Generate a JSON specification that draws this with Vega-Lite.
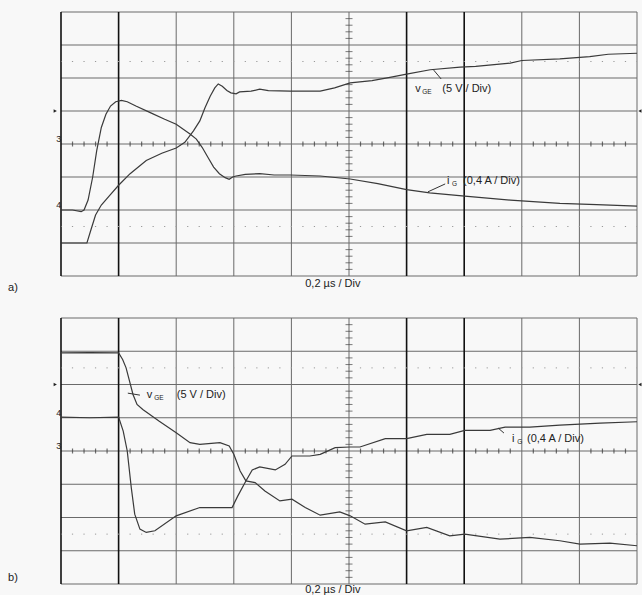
{
  "$schema": "https://vega.github.io/schema/vega-lite/v6.json",
  "autosize": {"type": "pad"},
  "padding": {"left": 8, "top": 11, "right": 0, "bottom": 0},
  "background": "#f8f8f8",
  "spacing": 42,
  "bounds": "flush",
  "config": {"view": {"stroke": null}, "text": {"font": "Liberation Sans", "fontSize": 11, "color": "#222"}},
  "datasets": {
    "vgrid": [{"x": 2}, {"x": 3}, {"x": 4}, {"x": 5}, {"x": 8}, {"x": 9}, {"x": 10}],
    "bold": [{"x": 0}, {"x": 1}, {"x": 6}, {"x": 7}],
    "hgrid": [{"y": 0}, {"y": 1}, {"y": 2}, {"y": 3}, {"y": 4}, {"y": 5}, {"y": 6}, {"y": 7}, {"y": 8}],
    "dots": [{"y": 1.5}, {"y": 6.5}],
    "minx": [{"t": 0.2}, {"t": 0.4}, {"t": 0.6}, {"t": 0.8}, {"t": 1.2}, {"t": 1.4}, {"t": 1.6}, {"t": 1.8}, {"t": 2.2}, {"t": 2.4}, {"t": 2.6}, {"t": 2.8}, {"t": 3.2}, {"t": 3.4}, {"t": 3.6}, {"t": 3.8}, {"t": 4.2}, {"t": 4.4}, {"t": 4.6}, {"t": 4.8}, {"t": 5.2}, {"t": 5.4}, {"t": 5.6}, {"t": 5.8}, {"t": 6.2}, {"t": 6.4}, {"t": 6.6}, {"t": 6.8}, {"t": 7.2}, {"t": 7.4}, {"t": 7.6}, {"t": 7.8}, {"t": 8.2}, {"t": 8.4}, {"t": 8.6}, {"t": 8.8}, {"t": 9.2}, {"t": 9.4}, {"t": 9.6}, {"t": 9.8}],
    "miny": [{"t": 0.2}, {"t": 0.4}, {"t": 0.6}, {"t": 0.8}, {"t": 1.2}, {"t": 1.4}, {"t": 1.6}, {"t": 1.8}, {"t": 2.2}, {"t": 2.4}, {"t": 2.6}, {"t": 2.8}, {"t": 3.2}, {"t": 3.4}, {"t": 3.6}, {"t": 3.8}, {"t": 4.2}, {"t": 4.4}, {"t": 4.6}, {"t": 4.8}, {"t": 5.2}, {"t": 5.4}, {"t": 5.6}, {"t": 5.8}, {"t": 6.2}, {"t": 6.4}, {"t": 6.6}, {"t": 6.8}, {"t": 7.2}, {"t": 7.4}, {"t": 7.6}, {"t": 7.8}],
    "traceA": [
      {"s": "vGE", "x": 0, "y": 1.0}, {"s": "vGE", "x": 0.3, "y": 1.0}, {"s": "vGE", "x": 0.45, "y": 1.0}, {"s": "vGE", "x": 0.52, "y": 1.4}, {"s": "vGE", "x": 0.6, "y": 1.85}, {"s": "vGE", "x": 0.7, "y": 2.15}, {"s": "vGE", "x": 0.85, "y": 2.45}, {"s": "vGE", "x": 1.0, "y": 2.75}, {"s": "vGE", "x": 1.2, "y": 3.1}, {"s": "vGE", "x": 1.48, "y": 3.5}, {"s": "vGE", "x": 1.75, "y": 3.72}, {"s": "vGE", "x": 2.0, "y": 3.88}, {"s": "vGE", "x": 2.15, "y": 4.05}, {"s": "vGE", "x": 2.3, "y": 4.4}, {"s": "vGE", "x": 2.41, "y": 4.7}, {"s": "vGE", "x": 2.5, "y": 5.1}, {"s": "vGE", "x": 2.59, "y": 5.45}, {"s": "vGE", "x": 2.67, "y": 5.7}, {"s": "vGE", "x": 2.73, "y": 5.82}, {"s": "vGE", "x": 2.8, "y": 5.75}, {"s": "vGE", "x": 2.88, "y": 5.62}, {"s": "vGE", "x": 2.95, "y": 5.55}, {"s": "vGE", "x": 3.04, "y": 5.52}, {"s": "vGE", "x": 3.1, "y": 5.58}, {"s": "vGE", "x": 3.3, "y": 5.6}, {"s": "vGE", "x": 3.45, "y": 5.66}, {"s": "vGE", "x": 3.6, "y": 5.62}, {"s": "vGE", "x": 3.98, "y": 5.6}, {"s": "vGE", "x": 4.5, "y": 5.6}, {"s": "vGE", "x": 4.75, "y": 5.7}, {"s": "vGE", "x": 5.02, "y": 5.85}, {"s": "vGE", "x": 5.4, "y": 5.92}, {"s": "vGE", "x": 5.71, "y": 6.02}, {"s": "vGE", "x": 6.0, "y": 6.12}, {"s": "vGE", "x": 6.41, "y": 6.25}, {"s": "vGE", "x": 6.93, "y": 6.33}, {"s": "vGE", "x": 7.2, "y": 6.35}, {"s": "vGE", "x": 7.8, "y": 6.45}, {"s": "vGE", "x": 8.0, "y": 6.53}, {"s": "vGE", "x": 8.66, "y": 6.58}, {"s": "vGE", "x": 9.18, "y": 6.65}, {"s": "vGE", "x": 9.5, "y": 6.72}, {"s": "vGE", "x": 10, "y": 6.75},
      {"s": "iG", "x": 0, "y": 2.0}, {"s": "iG", "x": 0.2, "y": 2.0}, {"s": "iG", "x": 0.35, "y": 1.95}, {"s": "iG", "x": 0.4, "y": 2.0}, {"s": "iG", "x": 0.47, "y": 2.3}, {"s": "iG", "x": 0.55, "y": 3.0}, {"s": "iG", "x": 0.62, "y": 3.8}, {"s": "iG", "x": 0.7, "y": 4.5}, {"s": "iG", "x": 0.78, "y": 4.9}, {"s": "iG", "x": 0.86, "y": 5.15}, {"s": "iG", "x": 0.95, "y": 5.28}, {"s": "iG", "x": 1.05, "y": 5.32}, {"s": "iG", "x": 1.15, "y": 5.28}, {"s": "iG", "x": 1.3, "y": 5.15}, {"s": "iG", "x": 1.55, "y": 4.95}, {"s": "iG", "x": 1.8, "y": 4.75}, {"s": "iG", "x": 2.0, "y": 4.6}, {"s": "iG", "x": 2.24, "y": 4.3}, {"s": "iG", "x": 2.35, "y": 4.15}, {"s": "iG", "x": 2.45, "y": 3.9}, {"s": "iG", "x": 2.55, "y": 3.6}, {"s": "iG", "x": 2.65, "y": 3.3}, {"s": "iG", "x": 2.75, "y": 3.1}, {"s": "iG", "x": 2.85, "y": 2.98}, {"s": "iG", "x": 2.92, "y": 2.93}, {"s": "iG", "x": 2.98, "y": 3.0}, {"s": "iG", "x": 3.04, "y": 3.03}, {"s": "iG", "x": 3.2, "y": 3.08}, {"s": "iG", "x": 3.45, "y": 3.1}, {"s": "iG", "x": 3.7, "y": 3.06}, {"s": "iG", "x": 3.98, "y": 3.06}, {"s": "iG", "x": 4.5, "y": 3.03}, {"s": "iG", "x": 5.02, "y": 2.94}, {"s": "iG", "x": 5.5, "y": 2.8}, {"s": "iG", "x": 6.0, "y": 2.62}, {"s": "iG", "x": 6.4, "y": 2.52}, {"s": "iG", "x": 7.01, "y": 2.42}, {"s": "iG", "x": 7.8, "y": 2.3}, {"s": "iG", "x": 8.66, "y": 2.2}, {"s": "iG", "x": 9.3, "y": 2.16}, {"s": "iG", "x": 10, "y": 2.12}
    ],
    "traceB": [
      {"s": "vGE", "x": 0, "y": 6.95}, {"s": "vGE", "x": 0.5, "y": 6.96}, {"s": "vGE", "x": 1.0, "y": 6.95}, {"s": "vGE", "x": 1.07, "y": 6.75}, {"s": "vGE", "x": 1.13, "y": 6.5}, {"s": "vGE", "x": 1.25, "y": 5.7}, {"s": "vGE", "x": 1.32, "y": 5.4}, {"s": "vGE", "x": 1.42, "y": 5.25}, {"s": "vGE", "x": 1.7, "y": 4.9}, {"s": "vGE", "x": 2.0, "y": 4.55}, {"s": "vGE", "x": 2.24, "y": 4.25}, {"s": "vGE", "x": 2.41, "y": 4.2}, {"s": "vGE", "x": 2.76, "y": 4.25}, {"s": "vGE", "x": 2.92, "y": 4.15}, {"s": "vGE", "x": 3.0, "y": 3.9}, {"s": "vGE", "x": 3.11, "y": 3.4}, {"s": "vGE", "x": 3.21, "y": 3.1}, {"s": "vGE", "x": 3.37, "y": 3.05}, {"s": "vGE", "x": 3.54, "y": 2.8}, {"s": "vGE", "x": 3.8, "y": 2.5}, {"s": "vGE", "x": 4.01, "y": 2.55}, {"s": "vGE", "x": 4.24, "y": 2.3}, {"s": "vGE", "x": 4.5, "y": 2.07}, {"s": "vGE", "x": 4.84, "y": 2.17}, {"s": "vGE", "x": 5.02, "y": 2.05}, {"s": "vGE", "x": 5.28, "y": 1.8}, {"s": "vGE", "x": 5.63, "y": 1.87}, {"s": "vGE", "x": 6.0, "y": 1.6}, {"s": "vGE", "x": 6.35, "y": 1.7}, {"s": "vGE", "x": 6.75, "y": 1.45}, {"s": "vGE", "x": 7.01, "y": 1.5}, {"s": "vGE", "x": 7.62, "y": 1.35}, {"s": "vGE", "x": 8.14, "y": 1.4}, {"s": "vGE", "x": 8.66, "y": 1.3}, {"s": "vGE", "x": 9.01, "y": 1.2}, {"s": "vGE", "x": 9.53, "y": 1.23}, {"s": "vGE", "x": 10, "y": 1.15},
      {"s": "iG", "x": 0, "y": 5.02}, {"s": "iG", "x": 0.5, "y": 5.0}, {"s": "iG", "x": 1.0, "y": 5.02}, {"s": "iG", "x": 1.08, "y": 4.6}, {"s": "iG", "x": 1.15, "y": 4.0}, {"s": "iG", "x": 1.22, "y": 2.9}, {"s": "iG", "x": 1.28, "y": 2.1}, {"s": "iG", "x": 1.37, "y": 1.65}, {"s": "iG", "x": 1.48, "y": 1.55}, {"s": "iG", "x": 1.63, "y": 1.6}, {"s": "iG", "x": 2.0, "y": 2.05}, {"s": "iG", "x": 2.41, "y": 2.3}, {"s": "iG", "x": 2.76, "y": 2.3}, {"s": "iG", "x": 2.97, "y": 2.3}, {"s": "iG", "x": 3.07, "y": 2.65}, {"s": "iG", "x": 3.21, "y": 3.1}, {"s": "iG", "x": 3.32, "y": 3.43}, {"s": "iG", "x": 3.45, "y": 3.52}, {"s": "iG", "x": 3.72, "y": 3.43}, {"s": "iG", "x": 3.89, "y": 3.6}, {"s": "iG", "x": 4.01, "y": 3.85}, {"s": "iG", "x": 4.32, "y": 3.85}, {"s": "iG", "x": 4.5, "y": 3.9}, {"s": "iG", "x": 4.76, "y": 4.1}, {"s": "iG", "x": 5.02, "y": 4.12}, {"s": "iG", "x": 5.19, "y": 4.12}, {"s": "iG", "x": 5.63, "y": 4.37}, {"s": "iG", "x": 6.0, "y": 4.37}, {"s": "iG", "x": 6.35, "y": 4.5}, {"s": "iG", "x": 6.75, "y": 4.5}, {"s": "iG", "x": 7.01, "y": 4.62}, {"s": "iG", "x": 7.45, "y": 4.62}, {"s": "iG", "x": 7.71, "y": 4.72}, {"s": "iG", "x": 8.14, "y": 4.72}, {"s": "iG", "x": 8.66, "y": 4.78}, {"s": "iG", "x": 9.36, "y": 4.84}, {"s": "iG", "x": 10, "y": 4.88}
    ],
    "annA": [
      {"k": "main", "x": 6.15, "y": 5.67, "t": "v"}, {"k": "sub", "x": 6.27, "y": 5.58, "t": "GE"}, {"k": "main", "x": 6.62, "y": 5.67, "t": "(5 V / Div)"},
      {"k": "main", "x": 6.7, "y": 2.88, "t": "i"}, {"k": "sub", "x": 6.79, "y": 2.79, "t": "G"}, {"k": "main", "x": 6.98, "y": 2.88, "t": "(0,4 A / Div)"},
      {"k": "main", "x": 4.24, "y": -0.24, "t": "0,2 µs / Div"}, {"k": "main", "x": -0.92, "y": -0.36, "t": "a)"},
      {"k": "side", "x": -0.04, "y": 4.06, "t": "3"}, {"k": "side", "x": -0.04, "y": 2.06, "t": "4"}
    ],
    "leadA": [{"x": 6.47, "y": 6.24, "x2": 6.6, "y2": 5.97}, {"x": 6.37, "y": 2.55, "x2": 6.67, "y2": 2.79}],
    "markA": [{"x": -0.1, "y": 5, "d": "L"}, {"x": 10.05, "y": 5, "d": "R"}],
    "annB": [
      {"k": "main", "x": 1.49, "y": 5.68, "t": "v"}, {"k": "sub", "x": 1.62, "y": 5.58, "t": "GE"}, {"k": "main", "x": 2.01, "y": 5.68, "t": "(5 V / Div)"},
      {"k": "main", "x": 7.83, "y": 4.36, "t": "i"}, {"k": "sub", "x": 7.92, "y": 4.27, "t": "G"}, {"k": "main", "x": 8.09, "y": 4.36, "t": "(0,4 A / Div)"},
      {"k": "main", "x": 4.24, "y": -0.18, "t": "0,2 µs / Div"}, {"k": "main", "x": -0.92, "y": 0.18, "t": "b)"},
      {"k": "side", "x": -0.04, "y": 5.06, "t": "4"}, {"k": "side", "x": -0.04, "y": 4.06, "t": "3"}
    ],
    "leadB": [{"x": 1.16, "y": 5.74, "x2": 1.37, "y2": 5.68}, {"x": 7.59, "y": 4.69, "x2": 7.69, "y2": 4.54}],
    "markB": [{"x": -0.1, "y": 6, "d": "L"}, {"x": 10.05, "y": 6, "d": "R"}]
  },
  "vconcat": [
    {
      "width": 576, "height": 264,
      "layer": [
        {"data": {"name": "hgrid"}, "mark": {"type": "rule", "color": "#6a6a6a", "strokeWidth": 1}, "encoding": {"y": {"field": "y", "type": "quantitative", "scale": {"domain": [0, 8], "nice": false, "zero": false}, "axis": null}}},
        {"data": {"name": "vgrid"}, "mark": {"type": "rule", "color": "#6a6a6a", "strokeWidth": 1}, "encoding": {"x": {"field": "x", "type": "quantitative", "scale": {"domain": [0, 10], "nice": false, "zero": false}, "axis": null}}},
        {"data": {"name": "bold"}, "mark": {"type": "rule", "color": "#111", "strokeWidth": 1.6}, "encoding": {"x": {"field": "x", "type": "quantitative", "axis": null}}},
        {"data": {"name": "dots"}, "mark": {"type": "rule", "color": "#999", "strokeWidth": 1, "strokeDash": [1.2, 10.32], "strokeDashOffset": 0.6}, "encoding": {"y": {"field": "y", "type": "quantitative", "axis": null}}},
        {"data": {"name": "minx"}, "mark": {"type": "tick", "orient": "vertical", "size": 5, "thickness": 1.2, "color": "#333"}, "encoding": {"x": {"field": "t", "type": "quantitative", "axis": null}, "y": {"datum": 4, "type": "quantitative", "axis": null}}},
        {"data": {"name": "miny"}, "mark": {"type": "tick", "orient": "horizontal", "size": 7, "thickness": 1, "color": "#444"}, "encoding": {"y": {"field": "t", "type": "quantitative", "axis": null}, "x": {"datum": 5, "type": "quantitative", "axis": null}}},
        {"data": {"name": "traceA"}, "mark": {"type": "line", "color": "#3a3a3a", "strokeWidth": 1.2}, "encoding": {"x": {"field": "x", "type": "quantitative", "axis": null}, "y": {"field": "y", "type": "quantitative", "axis": null}, "detail": {"field": "s"}}},
        {"data": {"name": "leadA"}, "mark": {"type": "rule", "color": "#333", "strokeWidth": 1}, "encoding": {"x": {"field": "x", "type": "quantitative", "axis": null}, "y": {"field": "y", "type": "quantitative", "axis": null}, "x2": {"field": "x2"}, "y2": {"field": "y2"}}},
        {"data": {"name": "annA"}, "transform": [{"filter": "datum.k === 'main'"}], "mark": {"type": "text", "align": "left", "baseline": "middle", "fontSize": 11}, "encoding": {"x": {"field": "x", "type": "quantitative", "axis": null}, "y": {"field": "y", "type": "quantitative", "axis": null}, "text": {"field": "t"}}},
        {"data": {"name": "annA"}, "transform": [{"filter": "datum.k === 'sub'"}], "mark": {"type": "text", "align": "left", "baseline": "middle", "fontSize": 6.5}, "encoding": {"x": {"field": "x", "type": "quantitative", "axis": null}, "y": {"field": "y", "type": "quantitative", "axis": null}, "text": {"field": "t"}}},
        {"data": {"name": "annA"}, "transform": [{"filter": "datum.k === 'side'"}], "mark": {"type": "text", "align": "center", "baseline": "alphabetic", "fontSize": 9}, "encoding": {"x": {"field": "x", "type": "quantitative", "axis": null}, "y": {"field": "y", "type": "quantitative", "axis": null}, "text": {"field": "t"}}},
        {"data": {"name": "markA"}, "mark": {"type": "point", "filled": true, "color": "#222", "size": 14, "opacity": 1}, "encoding": {"x": {"field": "x", "type": "quantitative", "axis": null}, "y": {"field": "y", "type": "quantitative", "axis": null}, "shape": {"field": "d", "type": "nominal", "scale": {"domain": ["L", "R"], "range": ["triangle-right", "triangle-left"]}, "legend": null}}}
      ]
    },
    {
      "width": 576, "height": 266,
      "layer": [
        {"data": {"name": "hgrid"}, "mark": {"type": "rule", "color": "#6a6a6a", "strokeWidth": 1}, "encoding": {"y": {"field": "y", "type": "quantitative", "scale": {"domain": [0, 8], "nice": false, "zero": false}, "axis": null}}},
        {"data": {"name": "vgrid"}, "mark": {"type": "rule", "color": "#6a6a6a", "strokeWidth": 1}, "encoding": {"x": {"field": "x", "type": "quantitative", "scale": {"domain": [0, 10], "nice": false, "zero": false}, "axis": null}}},
        {"data": {"name": "bold"}, "mark": {"type": "rule", "color": "#111", "strokeWidth": 1.6}, "encoding": {"x": {"field": "x", "type": "quantitative", "axis": null}}},
        {"data": {"name": "dots"}, "mark": {"type": "rule", "color": "#999", "strokeWidth": 1, "strokeDash": [1.2, 10.32], "strokeDashOffset": 0.6}, "encoding": {"y": {"field": "y", "type": "quantitative", "axis": null}}},
        {"data": {"name": "minx"}, "mark": {"type": "tick", "orient": "vertical", "size": 5, "thickness": 1.2, "color": "#333"}, "encoding": {"x": {"field": "t", "type": "quantitative", "axis": null}, "y": {"datum": 4, "type": "quantitative", "axis": null}}},
        {"data": {"name": "miny"}, "mark": {"type": "tick", "orient": "horizontal", "size": 7, "thickness": 1, "color": "#444"}, "encoding": {"y": {"field": "t", "type": "quantitative", "axis": null}, "x": {"datum": 5, "type": "quantitative", "axis": null}}},
        {"data": {"name": "traceB"}, "mark": {"type": "line", "color": "#3a3a3a", "strokeWidth": 1.2}, "encoding": {"x": {"field": "x", "type": "quantitative", "axis": null}, "y": {"field": "y", "type": "quantitative", "axis": null}, "detail": {"field": "s"}}},
        {"data": {"name": "leadB"}, "mark": {"type": "rule", "color": "#333", "strokeWidth": 1}, "encoding": {"x": {"field": "x", "type": "quantitative", "axis": null}, "y": {"field": "y", "type": "quantitative", "axis": null}, "x2": {"field": "x2"}, "y2": {"field": "y2"}}},
        {"data": {"name": "annB"}, "transform": [{"filter": "datum.k === 'main'"}], "mark": {"type": "text", "align": "left", "baseline": "middle", "fontSize": 11}, "encoding": {"x": {"field": "x", "type": "quantitative", "axis": null}, "y": {"field": "y", "type": "quantitative", "axis": null}, "text": {"field": "t"}}},
        {"data": {"name": "annB"}, "transform": [{"filter": "datum.k === 'sub'"}], "mark": {"type": "text", "align": "left", "baseline": "middle", "fontSize": 6.5}, "encoding": {"x": {"field": "x", "type": "quantitative", "axis": null}, "y": {"field": "y", "type": "quantitative", "axis": null}, "text": {"field": "t"}}},
        {"data": {"name": "annB"}, "transform": [{"filter": "datum.k === 'side'"}], "mark": {"type": "text", "align": "center", "baseline": "alphabetic", "fontSize": 9}, "encoding": {"x": {"field": "x", "type": "quantitative", "axis": null}, "y": {"field": "y", "type": "quantitative", "axis": null}, "text": {"field": "t"}}},
        {"data": {"name": "markB"}, "mark": {"type": "point", "filled": true, "color": "#222", "size": 14, "opacity": 1}, "encoding": {"x": {"field": "x", "type": "quantitative", "axis": null}, "y": {"field": "y", "type": "quantitative", "axis": null}, "shape": {"field": "d", "type": "nominal", "scale": {"domain": ["L", "R"], "range": ["triangle-right", "triangle-left"]}, "legend": null}}}
      ]
    }
  ]
}
